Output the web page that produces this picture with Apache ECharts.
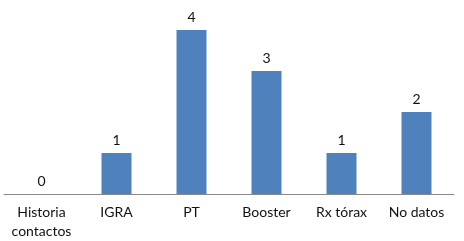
<!DOCTYPE html>
<html>
<head>
<meta charset="utf-8">
<script src="https://cdn.jsdelivr.net/npm/echarts@6/dist/echarts.min.js"></script>
<style>html,body{margin:0;padding:0;background:#fff}#c{width:464px;height:241px}</style>
</head>
<body>
<div id="c"></div>
<script>
const categories = ["Historia\ncontactos", "IGRA", "PT", "Booster", "Rx tórax", "No datos"];
const values = [0, 1, 4, 3, 1, 2];

const chart = echarts.init(document.getElementById('c'), null, {renderer: 'canvas'});
chart.setOption({
  animation: false,
  backgroundColor: '#ffffff',
  textStyle: {fontFamily: 'Lato'},
  grid: {left: 4, right: 10, top: 30, bottom: 45, containLabel: false},
  xAxis: {
    type: 'category',
    data: categories,
    axisLine: {lineStyle: {color: '#898989', width: 1}},
    axisTick: {show: false},
    axisLabel: {color: '#111', fontSize: 14, fontFamily: 'Lato', margin: 9, lineHeight: 19, interval: 0}
  },
  yAxis: {
    type: 'value', min: 0, max: 4, show: false,
    splitLine: {show: false}
  },
  series: [{
    type: 'bar',
    data: values,
    barWidth: 30,
    itemStyle: {color: '#4F81BD'},
    label: {show: true, position: 'top', distance: 6, color: '#111', fontSize: 14, fontFamily: 'Lato'}
  }]
});
</script>
</body>
</html>
